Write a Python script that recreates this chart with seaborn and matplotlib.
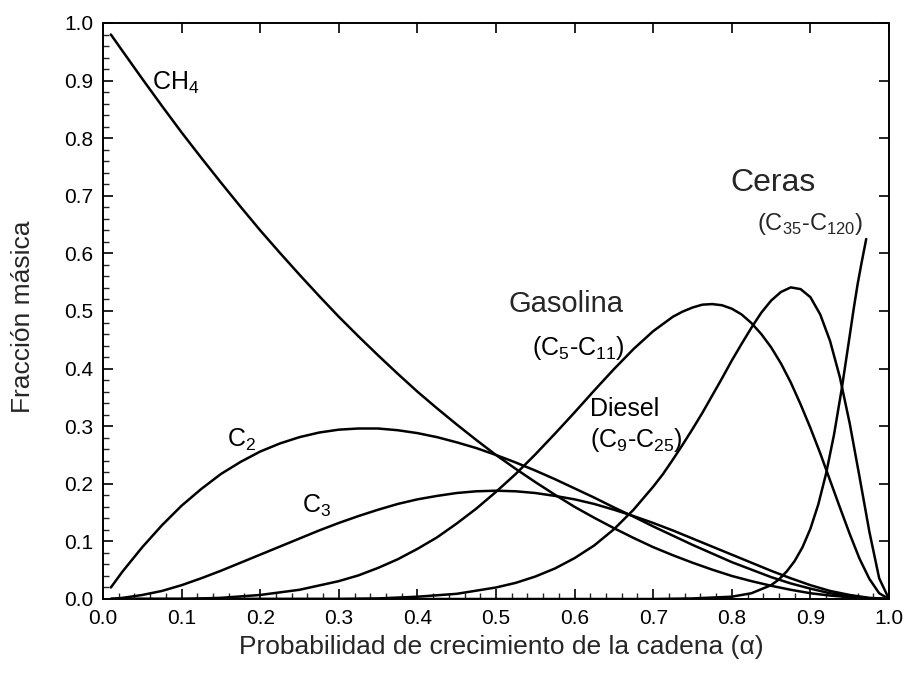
import matplotlib
matplotlib.use("Agg")
import matplotlib.pyplot as plt
from matplotlib.ticker import MultipleLocator
import seaborn as sns
import pandas as pd

# ---- data ----
alpha_low = [0.01, 0.025, 0.05, 0.075, 0.10, 0.125, 0.15, 0.175, 0.20, 0.225, 0.25, 0.275,
             0.30, 0.325, 0.35, 0.375, 0.40, 0.425, 0.45, 0.475, 0.50, 0.525, 0.55, 0.575,
             0.60, 0.625, 0.65, 0.675, 0.70, 0.725, 0.75, 0.775, 0.80, 0.825, 0.85, 0.875,
             0.90, 0.925, 0.95, 0.975, 1.00]
ch4 = [0.980, 0.951, 0.903, 0.856, 0.810, 0.766, 0.723, 0.681, 0.640, 0.601, 0.563, 0.526,
       0.490, 0.456, 0.423, 0.391, 0.360, 0.331, 0.303, 0.276, 0.250, 0.226, 0.203, 0.181,
       0.160, 0.141, 0.123, 0.106, 0.090, 0.076, 0.063, 0.051, 0.040, 0.031, 0.023, 0.016,
       0.010, 0.006, 0.003, 0.001, 0.000]
c2 = [0.020, 0.048, 0.090, 0.128, 0.162, 0.191, 0.217, 0.238, 0.256, 0.270, 0.281, 0.289,
      0.294, 0.296, 0.296, 0.293, 0.288, 0.281, 0.272, 0.262, 0.250, 0.237, 0.223, 0.208,
      0.192, 0.176, 0.159, 0.143, 0.126, 0.110, 0.094, 0.079, 0.064, 0.051, 0.038, 0.027,
      0.018, 0.010, 0.005, 0.001, 0.000]
c3 = [0.000, 0.002, 0.007, 0.014, 0.024, 0.036, 0.049, 0.063, 0.077, 0.091, 0.105, 0.119,
      0.132, 0.144, 0.155, 0.165, 0.173, 0.179, 0.184, 0.187, 0.188, 0.187, 0.184, 0.179,
      0.173, 0.165, 0.155, 0.144, 0.132, 0.119, 0.105, 0.091, 0.077, 0.063, 0.049, 0.036,
      0.024, 0.014, 0.007, 0.002, 0.000]

alpha_gas = [0.01, 0.10, 0.15, 0.20, 0.25, 0.30, 0.325, 0.35, 0.375, 0.40, 0.425, 0.45,
             0.475, 0.50, 0.525, 0.55, 0.575, 0.60, 0.625, 0.65, 0.675, 0.70, 0.725, 0.7375,
             0.75, 0.7625, 0.775, 0.7875, 0.80, 0.8125, 0.825, 0.8375, 0.85, 0.8625, 0.875,
             0.8875, 0.90, 0.9125, 0.925, 0.9375, 0.95, 0.9625, 0.975, 0.9875, 1.00]
gasolina = [0.000, 0.000, 0.002, 0.007, 0.016, 0.031, 0.041, 0.054, 0.069, 0.087, 0.107,
            0.131, 0.157, 0.186, 0.217, 0.251, 0.287, 0.324, 0.362, 0.399, 0.434, 0.465,
            0.490, 0.499, 0.506, 0.511, 0.512, 0.510, 0.504, 0.494, 0.479, 0.460, 0.437,
            0.409, 0.376, 0.338, 0.297, 0.253, 0.206, 0.159, 0.113, 0.070, 0.035, 0.010,
            0.000]

alpha_dsl = [0.01, 0.30, 0.35, 0.40, 0.45, 0.50, 0.525, 0.55, 0.575, 0.60, 0.625, 0.65,
             0.675, 0.70, 0.7125, 0.725, 0.7375, 0.75, 0.7625, 0.775, 0.7875, 0.80, 0.8125,
             0.825, 0.8375, 0.85, 0.8625, 0.875, 0.8875, 0.90, 0.9125, 0.925, 0.9375, 0.95,
             0.9625, 0.975, 0.9875, 1.00]
diesel = [0.000, 0.000, 0.001, 0.004, 0.009, 0.020, 0.028, 0.039, 0.053, 0.071, 0.093,
          0.121, 0.155, 0.195, 0.217, 0.242, 0.268, 0.295, 0.323, 0.353, 0.383, 0.414,
          0.443, 0.471, 0.497, 0.518, 0.533, 0.541, 0.538, 0.524, 0.494, 0.448, 0.385,
          0.305, 0.212, 0.117, 0.036, 0.000]

alpha_wax = [0.01, 0.70, 0.75, 0.80, 0.825, 0.85, 0.86, 0.87, 0.88, 0.89, 0.90, 0.91, 0.92,
             0.93, 0.94, 0.95, 0.955, 0.96, 0.965, 0.971]
ceras = [0.000, 0.000, 0.001, 0.004, 0.010, 0.024, 0.034, 0.048, 0.066, 0.090, 0.122, 0.164,
         0.218, 0.285, 0.366, 0.457, 0.503, 0.546, 0.583, 0.625]

x_ticks = [0.0, 0.1, 0.2, 0.3, 0.4, 0.5, 0.6, 0.7, 0.8, 0.9, 1.0]
y_ticks = [0.0, 0.1, 0.2, 0.3, 0.4, 0.5, 0.6, 0.7, 0.8, 0.9, 1.0]

series = [
    ("CH4", alpha_low, ch4),
    ("C2", alpha_low, c2),
    ("C3", alpha_low, c3),
    ("Gasolina", alpha_gas, gasolina),
    ("Diesel", alpha_dsl, diesel),
    ("Ceras", alpha_wax, ceras),
]
frames = [pd.DataFrame({"alpha": a, "w": v, "serie": name}) for name, a, v in series]
df = pd.concat(frames, ignore_index=True)

# ---- styling ----
sns.set_theme(style="ticks")
plt.rcParams["font.family"] = ["Liberation Sans", "DejaVu Sans"]
plt.rcParams["mathtext.fontset"] = "custom"
plt.rcParams["mathtext.rm"] = "Liberation Sans"

fig = plt.figure(figsize=(9.06, 6.75), dpi=100)
ax = fig.add_axes([103 / 906, 1 - 599 / 675, (889 - 103) / 906, (599 - 23) / 675])

for name, _, _ in series:
    sub = df[df["serie"] == name]
    sns.lineplot(data=sub, x="alpha", y="w", color="black", linewidth=1.8,
                 ax=ax, legend=False, sort=True, estimator=None)

ax.set_xlim(0, 1)
ax.set_ylim(0, 1)
ax.set_xticks(x_ticks)
ax.set_yticks(y_ticks)
ax.set_xticklabels([f"{t:.1f}" for t in x_ticks])
ax.set_yticklabels([f"{t:.1f}" for t in y_ticks])
ax.xaxis.set_minor_locator(MultipleLocator(0.02))
ax.yaxis.set_minor_locator(MultipleLocator(0.02))
ax.tick_params(which="major", direction="in", length=7, width=1.2, top=True, right=True,
               labelsize=15, pad=7, colors="black")
ax.tick_params(which="minor", direction="in", length=4, width=1.0, top=False, right=False)
for s in ax.spines.values():
    s.set_linewidth(1.4)
    s.set_color("black")
ax.set_xlabel("")
ax.set_ylabel("")

fig.text(0.553, 1 - 647 / 675, "Probabilidad de crecimiento de la cadena (α)",
         ha="center", va="center", fontsize=19)
fig.text(23 / 906, 1 - 317 / 675, "Fracción másica", rotation=90,
         ha="center", va="center", fontsize=19)

lab = dict(fontsize=18, ha="left", va="baseline", color="black")
ax.text(0.062, 0.884, r"CH$_4$", **lab)
ax.text(0.158, 0.264, r"C$_2$", **lab)
ax.text(0.253, 0.149, r"C$_3$", **lab)
ax.text(0.5155, 0.498, "Gasolina", fontsize=21, ha="left", va="baseline")
ax.text(0.546, 0.424, r"(C$_5$-C$_{11}$)", **lab)
ax.text(0.620, 0.317, "Diesel", **lab)
ax.text(0.620, 0.264, r"(C$_9$-C$_{25}$)", **lab)
ax.text(0.798, 0.709, "Ceras", fontsize=23, ha="left", va="baseline")
ax.text(0.832, 0.641, r"(C$_{35}$-C$_{120}$)", fontsize=17, ha="left", va="baseline")

fig.savefig("out.png", dpi=100)
